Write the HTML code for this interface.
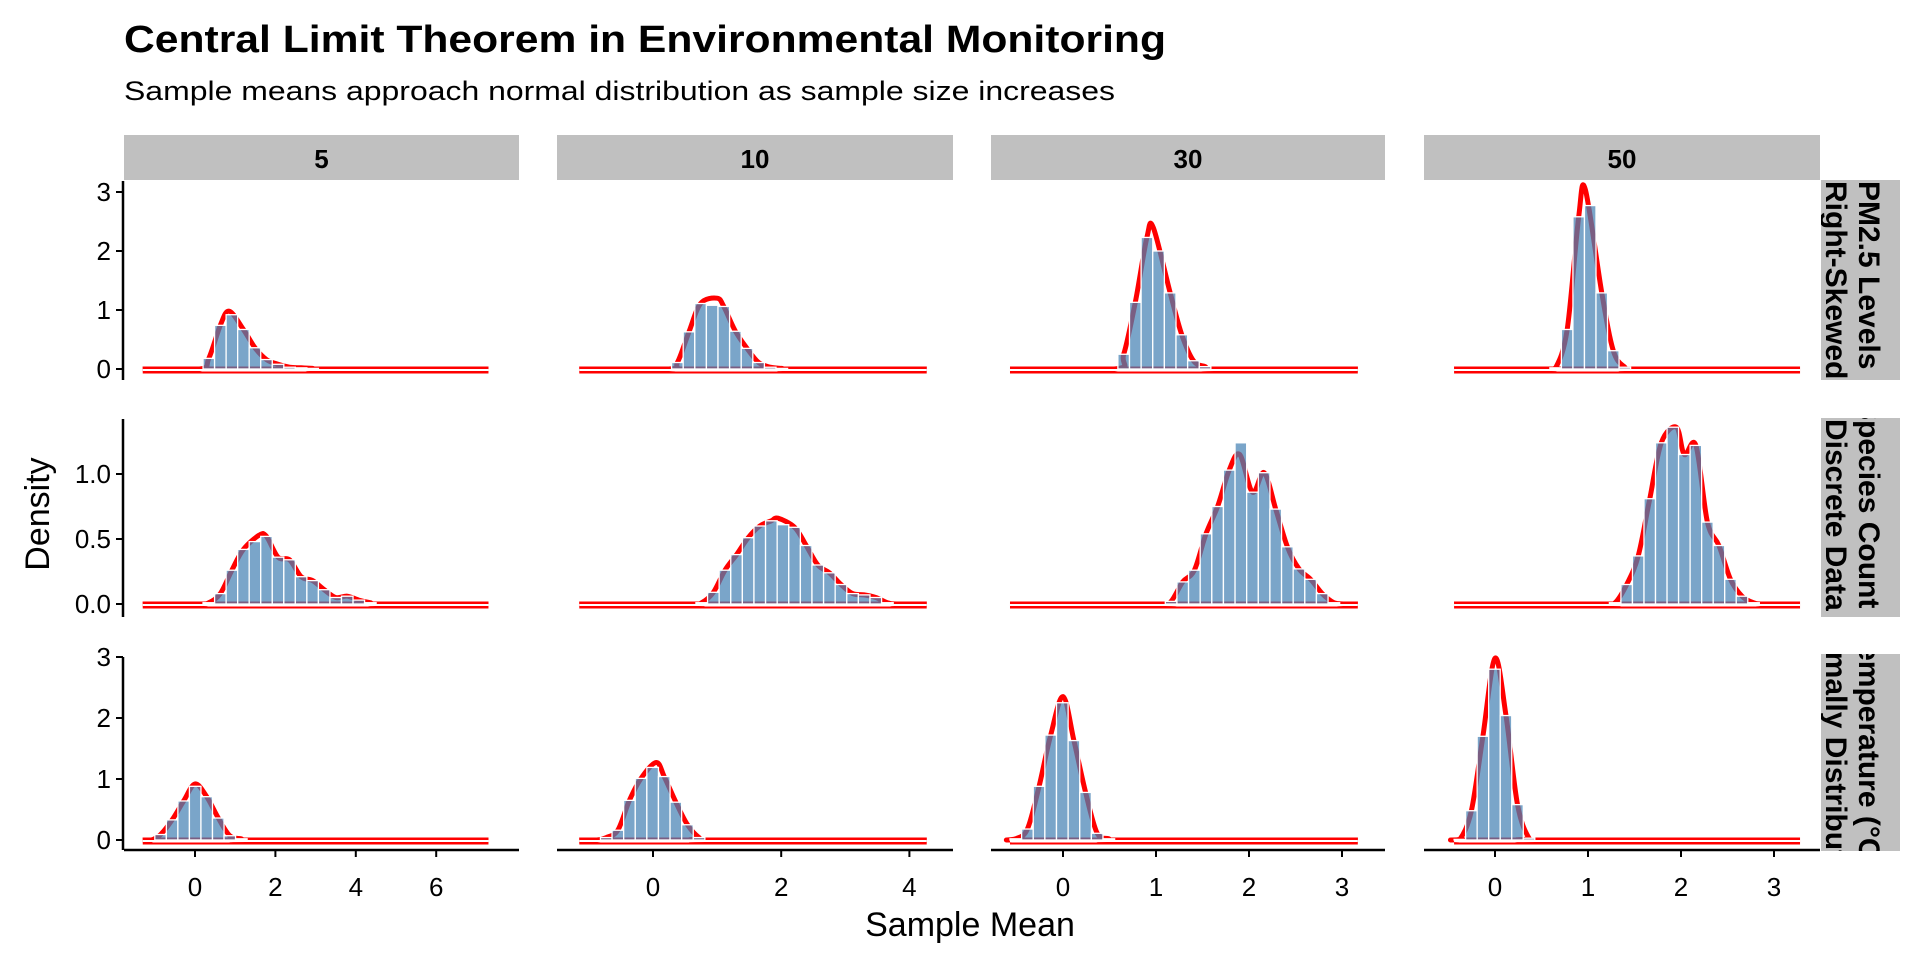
<!DOCTYPE html>
<html><head><meta charset="utf-8"><style>
html,body{margin:0;padding:0;background:#fff;}
svg{display:block;font-family:"Liberation Sans",Arial,sans-serif;}
</style></head><body>
<svg id="chart" width="1920" height="960" viewBox="0 0 1920 960">
<defs>
<clipPath id="cs1"><rect x="1821" y="180" width="79" height="200"/></clipPath>
<clipPath id="cs2"><rect x="1821" y="418" width="79" height="199"/></clipPath>
<clipPath id="cs3"><rect x="1821" y="654" width="79" height="197"/></clipPath>
</defs>
<text x="124" y="52" font-size="38" font-weight="bold" textLength="1042" lengthAdjust="spacingAndGlyphs">Central Limit Theorem in Environmental Monitoring</text>
<text x="124" y="100" font-size="27" textLength="991" lengthAdjust="spacingAndGlyphs">Sample means approach normal distribution as sample size increases</text>
<text x="970" y="936" font-size="34" text-anchor="middle">Sample Mean</text>
<text transform="translate(49,514) rotate(-90)" font-size="34" text-anchor="middle">Density</text>
<g clip-path="url(#cs1)">
<rect x="1821" y="180" width="79" height="200" fill="#c0c0c0"/>
<text transform="translate(1859,181) rotate(90)" font-size="30" font-weight="bold">PM2.5 Levels</text>
<text transform="translate(1826,181) rotate(90)" font-size="30" font-weight="bold">Right-Skewed</text>
</g>
<g clip-path="url(#cs2)">
<rect x="1821" y="418" width="79" height="199" fill="#c0c0c0"/>
<text transform="translate(1859,400) rotate(90)" font-size="30" font-weight="bold">Species Count</text>
<text transform="translate(1826,419) rotate(90)" font-size="30" font-weight="bold">Discrete Data</text>
</g>
<g clip-path="url(#cs3)">
<rect x="1821" y="654" width="79" height="197" fill="#c0c0c0"/>
<text transform="translate(1859,628) rotate(90)" font-size="30" font-weight="bold">Temperature (°C)</text>
<text transform="translate(1826,600) rotate(90)" font-size="30" font-weight="bold">Normally Distributed</text>
</g>
<g id="plots"></g>
</svg>
<script>
// ---- data ----
const sampleSizes = ["5","10","30","50"];
const rowNames = ["pm25","species","temperature"];
const colRanges = [[-1.3,7.3],[-1.15,4.27],[-0.57,3.17],[-0.44,3.28]];
const binWidths = [0.287,0.181,0.125,0.124];
const xTicks = [[0,2,4,6],[0,2,4],[0,1,2,3],[0,1,2,3]];
const yTicksRow1 = [0,1,2,3];
const yTicksRow2 = [0.0,0.5,1.0];
const yTicksRow3 = [0,1,2,3];
const yTickLabelsRow2 = ["0.0","0.5","1.0"];
const binStartsRow1 = [0.2,0.29,0.59,0.59];
const binStartsRow2 = [0.2,0.67,1.1,1.23];
const binStartsRow3 = [-1.0,-0.82,-0.57,-0.44];
const hR1C1 = [0.18,0.74,0.92,0.67,0.36,0.16,0.08,0.03,0.02,0.01];
const hR1C2 = [0.11,0.63,1.11,1.08,1.06,0.64,0.35,0.11,0.03,0.01];
const hR1C3 = [0.25,1.13,2.23,2.0,1.29,0.58,0.14,0.04];
const hR1C4 = [0.02,0.67,2.58,2.77,1.29,0.31,0.03];
const hR2C1 = [0.01,0.08,0.26,0.42,0.48,0.52,0.36,0.34,0.21,0.18,0.11,0.05,0.06,0.03,0.01];
const hR2C2 = [0.01,0.09,0.26,0.38,0.51,0.6,0.64,0.61,0.59,0.45,0.30,0.24,0.15,0.08,0.07,0.05,0.01];
const hR2C3 = [0.02,0.17,0.26,0.54,0.75,1.03,1.24,0.86,1.01,0.73,0.44,0.27,0.19,0.08,0.01];
const hR2C4 = [0.01,0.15,0.37,0.81,1.24,1.36,1.15,1.22,0.63,0.45,0.19,0.06,0.01];
const hR3C1 = [0.09,0.33,0.64,0.88,0.71,0.36,0.07,0.02];
const hR3C2 = [0.04,0.16,0.65,1.01,1.19,1.04,0.62,0.25,0.04];
const hR3C3 = [0.02,0.18,0.88,1.72,2.25,1.63,0.78,0.11,0.02];
const hR3C4 = [0.01,0.48,1.7,2.8,2.04,0.58,0.03];
const peaksRow1 = [[0.85,0.98],[1.0,1.2],[0.97,2.4],[0.97,3.05]];
const peaksRow2 = [[1.6,0.53],[1.95,0.66],[1.9,1.15],[1.95,1.36]];
const peaksRow3 = [[0.0,0.92],[0.05,1.27],[0.0,2.35],[0.0,2.98]];

// ---- layout ----
const NS="http://www.w3.org/2000/svg";
const plots=document.getElementById('plots');
const colLeft=[124,557,991,1424], colRight=[519,953,1385,1820];
const xZero=[195,653,1063,1495], xUnit=[40.2,64.1,93,93];
const rowTop=[180,418,656], rowBottom=[380,617,850];
const yZero=[369,604,840], yUnit=[59,130,61];
function xs(c,v){return xZero[c]+v*xUnit[c];}
function ys(r,v){return yZero[r]-v*yUnit[r];}
function mk(tag,attrs,parent){const e=document.createElementNS(NS,tag);for(const k in attrs)e.setAttribute(k,attrs[k]);(parent||plots).appendChild(e);return e;}

const heights=[[hR1C1,hR1C2,hR1C3,hR1C4],[hR2C1,hR2C2,hR2C3,hR2C4],[hR3C1,hR3C2,hR3C3,hR3C4]];
const starts=[binStartsRow1,binStartsRow2,binStartsRow3];
const peaks=[peaksRow1,peaksRow2,peaksRow3];
let yZeroCur=0;
function smoothPath(pts){
  let d="M"+pts[0][0].toFixed(1)+","+pts[0][1].toFixed(1);
  for(let i=0;i<pts.length-1;i++){
    const p0=pts[Math.max(0,i-1)],p1=pts[i],p2=pts[i+1],p3=pts[Math.min(pts.length-1,i+2)];
    const c1x=p1[0]+(p2[0]-p0[0])/6,c1y=p1[1]+(p2[1]-p0[1])/6;
    const c2x=p2[0]-(p3[0]-p1[0])/6,c2y=p2[1]-(p3[1]-p1[1])/6;
    d+=" C"+c1x.toFixed(1)+","+Math.min(c1y,yZeroCur).toFixed(1)+" "+c2x.toFixed(1)+","+Math.min(c2y,yZeroCur).toFixed(1)+" "+p2[0].toFixed(1)+","+p2[1].toFixed(1);
  }
  return d;
}

for(let c=0;c<4;c++){
  const g=mk('g',{});
  
  
  mk('rect',{x:colLeft[c],y:135,width:colRight[c]-colLeft[c],height:45,fill:'#c0c0c0'},g);
  const t=mk('text',{x:(colLeft[c]+colRight[c])/2,y:168,'font-size':26,'font-weight':'bold','text-anchor':'middle'},g);
  t.textContent=sampleSizes[c];
}

for(let r=0;r<3;r++){
  yZeroCur=yZero[r];
  for(let c=0;c<4;c++){
    const g=mk('g',{});
    
    
    const bw=binWidths[c], st=starts[r][c], hs=heights[r][c], rg=colRanges[c], pk=peaks[r][c];
    let pts=[[rg[0],0],[st-bw*0.3,0]];
    let centers=hs.map((h,i)=>[st+bw*(i+0.5),h]);
    let ni=0,best=1e9;
    centers.forEach((p,i)=>{const d=Math.abs(p[0]-pk[0]);if(d<best){best=d;ni=i;}});
    centers[ni]=[pk[0],pk[1]];
    centers.sort((a,b)=>a[0]-b[0]);
    pts=pts.concat(centers);
    const endX=st+bw*hs.length;
    pts.push([endX+bw*0.3,0]);pts.push([rg[1],0]);
    const sp=pts.map(p=>[xs(c,p[0]),ys(r,p[1])]);
    const fl=mk('line',{x1:xs(c,rg[0]),x2:xs(c,rg[1]),y1:yZero[r]+1,y2:yZero[r]+1,stroke:'#ff0000','stroke-width':7},g);
    
    
    mk('line',{x1:xs(c,rg[0]),x2:xs(c,rg[1]),y1:yZero[r]+1,y2:yZero[r]+1,stroke:'#ffffff','stroke-width':3},g);
    const dp=mk('path',{d:smoothPath(sp),fill:'none',stroke:'#ff0000','stroke-width':5,'stroke-linejoin':'round'},g);
    
    
    mk('line',{x1:xs(c,rg[0]),x2:xs(c,rg[1]),y1:yZero[r]+1,y2:yZero[r]+1,stroke:'#ffffff','stroke-width':2},g);
    hs.forEach((h,i)=>{
      const x0=xs(c,st+bw*i),x1=xs(c,st+bw*(i+1));
      const b=mk('rect',{x:x0,y:ys(r,h),width:x1-x0,height:Math.max(0,yZero[r]-ys(r,h)),fill:'#4682B4','fill-opacity':0.72,stroke:'#ffffff','stroke-width':1.3},g);
      
      
    });
  }
  const ya=mk('g',{});
  
  
  mk('line',{x1:123,x2:123,y1:rowTop[r]+1,y2:rowBottom[r],stroke:'#000','stroke-width':2.5},ya);
  const tk=[yTicksRow1,yTicksRow2,yTicksRow3][r];
  tk.forEach((v,i)=>{
    mk('line',{x1:116,x2:123,y1:ys(r,v),y2:ys(r,v),stroke:'#000','stroke-width':2},ya);
    const t=mk('text',{x:111,y:ys(r,v)+9,'font-size':26,'text-anchor':'end'},ya);
    t.textContent=r===1?yTickLabelsRow2[i]:String(v);
  });
}
for(let c=0;c<4;c++){
  const xa=mk('g',{});
  
  
  mk('line',{x1:colLeft[c],x2:colRight[c],y1:850,y2:850,stroke:'#000','stroke-width':2.5},xa);
  xTicks[c].forEach(v=>{
    mk('line',{x1:xs(c,v),x2:xs(c,v),y1:850,y2:857,stroke:'#000','stroke-width':2},xa);
    const t=mk('text',{x:xs(c,v),y:896,'font-size':26,'text-anchor':'middle'},xa);
    t.textContent=String(v);
  });
}
</script>
</body></html>
